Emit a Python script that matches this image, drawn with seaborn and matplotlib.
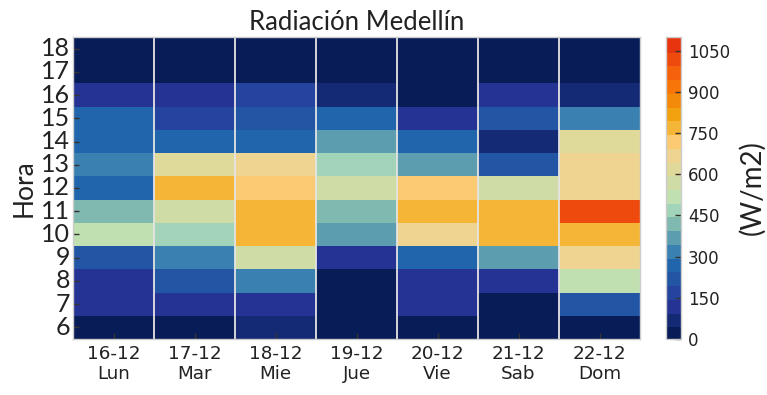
import matplotlib
matplotlib.use("Agg")
import matplotlib.pyplot as plt
from matplotlib.colors import ListedColormap, BoundaryNorm
from matplotlib.ticker import NullLocator, FixedLocator
import seaborn as sns
import pandas as pd
import numpy as np

# ---- datos (W/m2), horas 6..18 ----
hours = list(range(6, 19))
dates = ["16-12", "17-12", "18-12", "19-12", "20-12", "21-12", "22-12"]
days = ["Lun", "Mar", "Mie", "Jue", "Vie", "Sab", "Dom"]

lun = [20, 125, 120, 225, 520, 420, 270, 330, 275, 265, 125, 5, 0]
mar = [15, 125, 220, 330, 470, 570, 770, 620, 270, 175, 125, 5, 0]
mie = [75, 125, 320, 570, 780, 780, 720, 670, 275, 220, 175, 5, 0]
jue = [5, 5, 10, 120, 380, 420, 570, 470, 375, 270, 80, 5, 0]
vie = [20, 125, 125, 270, 670, 770, 720, 370, 270, 125, 10, 5, 0]
sab = [5, 10, 125, 380, 780, 780, 570, 225, 75, 225, 125, 5, 0]
dom = [15, 220, 520, 670, 780, 1020, 670, 670, 620, 320, 80, 5, 0]

# paleta discreta, 22 niveles de 50 W/m2
level_colors = [
    "#081d58", "#142a74", "#253494", "#2444a0", "#2355a5", "#2166ac",
    "#3a80b0", "#5c9db0", "#80b9b0", "#a1d4b8", "#c0e0b2", "#cfdca6",
    "#dfd99a", "#efd491", "#fcca72", "#f5b536", "#f1a20e", "#f48a0a",
    "#f87607", "#f5620b", "#ee4a0d", "#e8350f",
]
levels = np.arange(0, 1101, 50)
cbar_ticks = np.arange(0, 1051, 150)

df = pd.DataFrame(
    {d: v for d, v in zip(dates, [lun, mar, mie, jue, vie, sab, dom])},
    index=hours,
)

cmap = ListedColormap(level_colors)
norm = BoundaryNorm(levels, cmap.N)

fig = plt.figure(figsize=(7.67, 3.95), dpi=100)
ax = fig.add_axes([73 / 767, 1 - 339 / 395, 567 / 767, 302 / 395])
cax = fig.add_axes([666 / 767, 1 - 339 / 395, 15 / 767, 302 / 395])

sns.heatmap(df, cmap=cmap, norm=norm, ax=ax, cbar_ax=cax)
ax.invert_yaxis()

# separadores entre dias
for i in range(1, len(dates)):
    ax.axvline(i, color="#e4e4e4", linewidth=1.3)

for s in ax.spines.values():
    s.set_visible(True)
    s.set_color("#cccccc")
    s.set_linewidth(1)

ax.set_xticks(np.arange(len(dates)) + 0.5)
ax.set_xticklabels([f"{d}\n{w}" for d, w in zip(dates, days)],
                   rotation=0, fontsize=13.2, family="DejaVu Sans", color="#222222")
ax.set_yticks(np.arange(len(hours)) + 0.5)
ax.set_yticklabels([str(h) for h in hours], rotation=0,
                   fontsize=18, family="Lato", color="#222222")
ax.tick_params(axis="both", direction="in", length=4, width=1, color="#333333", pad=4)
ax.tick_params(axis="y", pad=2)

ax.set_xlabel("")
ax.set_ylabel("Hora", fontsize=19, family="Lato", color="#222222", labelpad=3)
ax.set_title("Radiación Medellín", fontsize=18.5, family="Lato", color="#222222", pad=5)

cbar = ax.collections[0].colorbar
cbar.set_ticks(cbar_ticks)
cbar.ax.yaxis.set_minor_locator(NullLocator())
if cbar.solids is not None:
    cbar.solids.set_edgecolor("face")
cbar.outline.set_edgecolor("#cccccc")
cbar.outline.set_linewidth(1)
cbar.ax.tick_params(which="major", direction="in", length=4, width=1,
                    color="#333333", labelsize=12, pad=5)
for t in cbar.ax.get_yticklabels():
    t.set_color("#222222")
cbar.set_label("(W/m2)", fontsize=20, family="Lato", color="#222222", labelpad=6)

fig.savefig("out.png", dpi=100, facecolor="white")
